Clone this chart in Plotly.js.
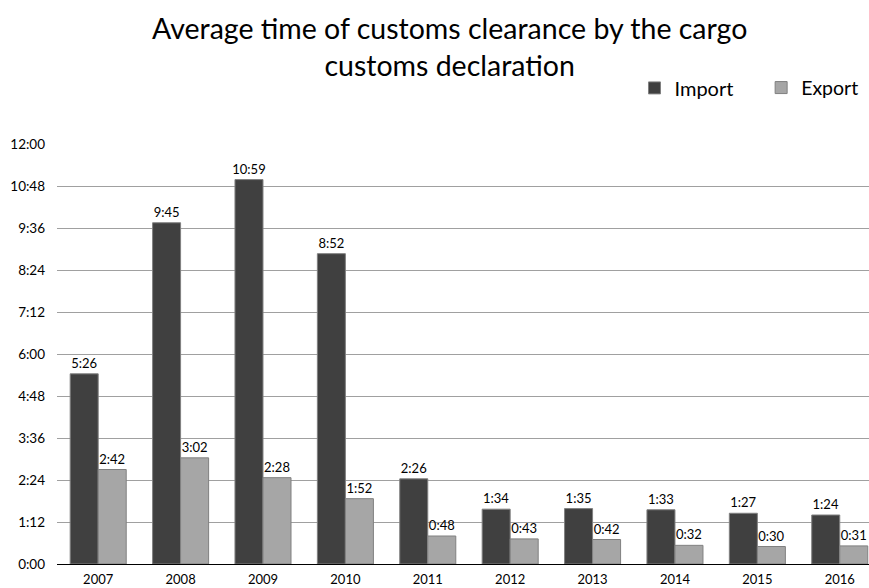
<!DOCTYPE html>
<html>
<head>
<meta charset="utf-8">
<script src="https://cdn.plot.ly/plotly-3.0.1.min.js"></script>
<style>html,body{margin:0;padding:0;background:#fff;}#chart{width:869px;height:588px;}</style>
</head>
<body>
<div id="chart"></div>
<script>
const years = ["2007","2008","2009","2010","2011","2012","2013","2014","2015","2016"];
const importLabels = ["5:26","9:45","10:59","8:52","2:26","1:34","1:35","1:33","1:27","1:24"];
const exportLabels = ["2:42","3:02","2:28","1:52","0:48","0:43","0:42","0:32","0:30","0:31"];
const tickLabels = ["0:00","1:12","2:24","3:36","4:48","6:00","7:12","8:24","9:36","10:48","12:00"];
const titleText = "Average time of customs clearance by the cargo<br>customs declaration";

function toMinutes(s){const p=s.split(":");return parseInt(p[0])*60+parseInt(p[1]);}
const importMin = importLabels.map(toMinutes);
const exportMin = exportLabels.map(toMinutes);
const tickVals = tickLabels.map(toMinutes);

const font = "Lato, 'Open Sans', sans-serif";

const data = [
  {type:"bar", name:"Import", x:years, y:importMin, text:importLabels, textposition:"outside",
   marker:{color:"#404040", line:{color:"#808080", width:1}}, legend:"legend",
   constraintext:"none",
   textfont:{size:13, color:"#000", family:font}, cliponaxis:false, hoverinfo:"none"},
  {type:"bar", name:"Export", x:years, y:exportMin, text:exportLabels, textposition:"outside",
   marker:{color:"#a6a6a6", line:{color:"#808080", width:1}}, legend:"legend2",
   constraintext:"none",
   textfont:{size:13, color:"#000", family:font}, cliponaxis:false, hoverinfo:"none"}
];

const layout = {
  width:869, height:588,
  margin:{l:57, r:0, t:144, b:24},
  paper_bgcolor:"#fff", plot_bgcolor:"#fff",
  font:{family:font, color:"#000"},
  annotations:[{text:titleText, xref:"paper", yref:"paper", x:0.4828, y:1.233,
                xanchor:"center", yanchor:"middle", showarrow:false,
                font:{size:28.5, family:font, color:"#000"}}],
  barmode:"group", bargap:0.32, bargroupgap:0,
  showlegend:true,
  legend:{orientation:"h", x:0.7112, xanchor:"left", y:1.18, yanchor:"top",
          font:{size:20, family:font, color:"#000"}, itemwidth:30},
  legend2:{orientation:"h", x:0.994, xanchor:"right", y:1.18, yanchor:"top",
          font:{size:19.5, family:font, color:"#000"}, itemwidth:30},
  xaxis:{type:"category", range:[-0.5, 9.355], showgrid:false, showline:false,
         ticks:"", tickfont:{size:13, family:font, color:"#000"}, ticklabelstandoff:6, fixedrange:true},
  yaxis:{range:[0,720], tickvals:tickVals, ticktext:tickLabels, showgrid:true,
         gridcolor:"#a0a0a0", gridwidth:1, zeroline:true, zerolinecolor:"#000", zerolinewidth:1,
         ticks:"", ticklen:0, tickfont:{size:13.5, family:font, color:"#000"}, ticklabelstandoff:11,
         showline:false, fixedrange:true}
};

Plotly.newPlot("chart", data, layout, {displayModeBar:false, staticPlot:true});
</script>
</body>
</html>
